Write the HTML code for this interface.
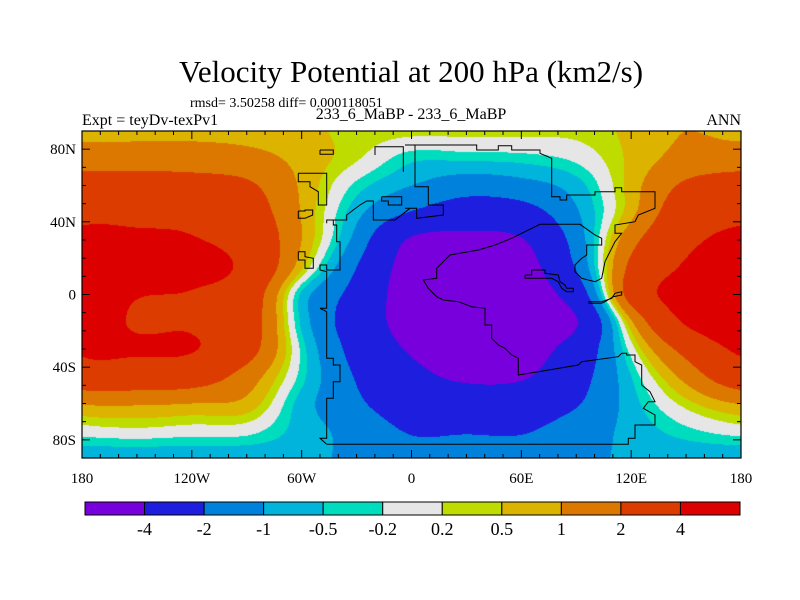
<!DOCTYPE html>
<html><head><meta charset="utf-8">
<style>
html,body{margin:0;padding:0;background:#fff;}
#wrap{position:relative;width:800px;height:600px;overflow:hidden;font-family:"Liberation Serif",serif;}
canvas{position:absolute;left:82px;top:131px;}
svg{position:absolute;left:0;top:0;}
</style></head>
<body>
<div id="wrap">
<canvas id="cv" width="659" height="327"></canvas>
<svg id="sv" width="800" height="600">
<text x="411" y="82" text-anchor="middle" font-size="31" font-family="Liberation Serif, serif">Velocity Potential at 200 hPa (km2/s)</text>
<text x="190" y="107" font-size="14" font-family="Liberation Serif, serif">rmsd= 3.50258 diff= 0.000118051</text>
<text x="82" y="125" font-size="16" font-family="Liberation Serif, serif">Expt = teyDv-texPv1</text>
<text x="411" y="119" text-anchor="middle" font-size="16" font-family="Liberation Serif, serif">233_6_MaBP - 233_6_MaBP</text>
<text x="741" y="125" text-anchor="end" font-size="16" font-family="Liberation Serif, serif">ANN</text>
<g id="coast" fill="none" stroke="#000" stroke-width="1"></g>
<g id="axes"></g>
<g id="cbar"></g>
</svg>
</div>
<script>
const lons = [-180,-150,-120,-90,-60,-30,0,30,60,90,120,150,180];
const lats = [90,75,60,45,30,15,0,-15,-30,-45,-60,-75,-90];
// each row = one longitude column, values from 90N to 90S
const colM180 = [0.8,1.5,2.6,3.6,4.4,5.0,5.0,5.0,4.3,3.0,1.05,0.0,-0.8];
const colM150 = [0.8,1.5,2.6,3.6,4.3,5.0,4.1,3.8,4.2,3.0,1.1,0.1,-0.8];
const colM120 = [0.8,1.5,2.5,3.5,4.1,4.6,3.9,3.8,4.1,2.8,1.0,0.0,-0.8];
const colM90  = [0.75,1.3,2.2,2.8,3.3,3.6,3.0,2.8,2.6,1.5,0.8,-0.05,-0.8];
const colM60  = [0.6,0.8,0.9,0.95,1.0,0.6,-0.6,-0.6,-0.3,-0.35,-0.7,-0.7,-0.8];
const colM30  = [0.4,0.25,-0.3,-0.8,-1.3,-2.0,-2.5,-2.8,-2.5,-2.1,-1.8,-1.3,-1.2];
const col0    = [0.3,-0.4,-1.0,-2.1,-4.2,-4.8,-5.0,-4.8,-4.2,-3.5,-2.8,-2.1,-1.6];
const col30   = [0.3,-0.4,-1.5,-2.8,-4.5,-5.3,-5.5,-5.5,-5.0,-4.3,-3.0,-2.1,-1.5];
const col60   = [0.3,-0.35,-1.3,-2.6,-4.1,-4.8,-5.0,-5.0,-4.8,-4.2,-2.8,-2.1,-1.5];
const col90   = [0.3,-0.1,-0.7,-1.1,-1.5,-1.9,-3.0,-4.1,-3.2,-2.6,-2.1,-1.5,-1.2];
const col120  = [0.6,0.6,0.7,0.8,1.6,2.3,2.6,0.9,0.0,-0.5,-0.7,-0.8,-0.9];
const col150  = [1.0,1.3,2.2,3.0,3.6,4.2,4.8,4.2,2.5,1.3,0.35,-0.3,-0.8];
const col180  = colM180;
const levels = [-4,-2,-1,-0.5,-0.2,0.2,0.5,1,2,4];
const levelLabels = ["-4","-2","-1","-0.5","-0.2","0.2","0.5","1","2","4"];
const colors = ["#7800dc","#1e1ede","#0082dc","#00b4dc","#00dcbe","#e6e6e6","#bedc00","#dcb400","#dc7800","#dc3c00","#dc0000"];
const lonTicks = [-180,-120,-60,0,60,120,180];
const lonTickLabels = ["180","120W","60W","0","60E","120E","180"];
const latTicks = [80,40,0,-40,-80];
const latTickLabels = ["80N","40N","0","40S","80S"];

const cols = [colM180,colM150,colM120,colM90,colM60,colM30,col0,col30,col60,col90,col120,col150,col180];
const X0=82, X1=741, Y0=131, Y1=458;
function xOf(lon){return X0+(lon+180)/360*(X1-X0);}
function yOf(lat){return Y0+(90-lat)/180*(Y1-Y0);}
function cr(p0,p1,p2,p3,t){return 0.5*((2*p1)+(-p0+p2)*t+(2*p0-5*p1+4*p2-p3)*t*t+(-p0+3*p1-3*p2+p3)*t*t*t);}
function G(i,j){
  const n=lons.length-1; i=((i%n)+n)%n; j=Math.max(0,Math.min(lats.length-1,j));
  return cols[i][j];
}
function field(lon,lat){
  const fi=(lon+180)/30, fj=(90-lat)/15;
  const i=Math.floor(fi), j=Math.min(Math.floor(fj),lats.length-2);
  const tx=fi-i, ty=fj-j;
  const r=[];
  for(let a=-1;a<=2;a++) r.push(cr(G(i-1,j+a),G(i,j+a),G(i+1,j+a),G(i+2,j+a),tx));
  return cr(r[0],r[1],r[2],r[3],ty);
}
function hex(c){return [parseInt(c.slice(1,3),16),parseInt(c.slice(3,5),16),parseInt(c.slice(5,7),16)];}
const rgb=colors.map(hex);
(function draw(){
  const cv=document.getElementById('cv'),ctx=cv.getContext('2d');
  const W=cv.width,H=cv.height,img=ctx.createImageData(W,H);
  for(let py=0;py<H;py++){
    const lat=90-(py+0.5)/H*180;
    for(let px=0;px<W;px++){
      const lon=-180+(px+0.5)/W*360;
      const v=field(lon,lat);
      let k=0; while(k<levels.length && v>=levels[k]) k++;
      const c=rgb[k],o=(py*W+px)*4;
      img.data[o]=c[0];img.data[o+1]=c[1];img.data[o+2]=c[2];img.data[o+3]=255;
    }
  }
  ctx.putImageData(img,0,0);
})();
const NS="http://www.w3.org/2000/svg";
function mk(tag,attrs,parent){const e=document.createElementNS(NS,tag);for(const k in attrs)e.setAttribute(k,attrs[k]);parent.appendChild(e);return e;}
const coast=document.getElementById('coast');
function z3(a){const o=[];for(let k=0;k<a.length;k+=2)o.push((70+a[k]/3).toFixed(1)+','+(125+a[k+1]/3).toFixed(1));return o.join(' ');}
function z4(a){const o=[];for(let k=0;k<a.length;k+=2)o.push((405+a[k]/3).toFixed(1)+','+(125+a[k+1]/3).toFixed(1));return o.join(' ');}
const lines3=[
 [750,75,790,75,790,88,750,88,750,75],
 [685,145,770,145,770,240,745,240,745,200,720,185,720,170,685,170,685,145],
 [685,258,705,258,705,255,728,255,728,270,705,280,685,280,685,258],
 [685,380,705,380,705,395,730,400,730,430,705,430,705,405,685,405,685,380],
 [915,90,915,65,1000,65,1000,140],
 [935,215,995,215,995,240,955,240,955,228,935,228,935,215],
 [770,295,770,285,830,285,830,270,850,255,870,240,890,228,910,228,910,285,975,285,1020,250],
 [790,285,790,300,800,300,800,350,810,350,810,435,770,435,770,420,750,420,750,435,770,440,770,550,750,550,770,560,770,700,790,700,790,720,810,720,810,770,790,770,790,820,770,820,770,940,750,940,770,958]
];
const lines4=[
 [0,60,30,60,30,185,70,185,70,240,115,240,115,270,35,280,35,250,0,250],
 [30,60,215,60,215,75,280,75,280,62,320,62,320,75,405,75,405,85,440,100,440,215,465,215,465,225,485,225,485,210,570,210,570,200,630,200,630,188,650,188,650,200,750,200,750,250,700,270,690,290,630,300,630,325,650,325,630,350,620,370,610,390,600,410,590,460,570,470,530,460,510,440,510,420,530,400,545,390,545,360,590,360,590,340,570,330,525,298,405,298,360,320,320,340,270,360,220,375,135,390,95,430,95,460,55,465,70,490,95,515,115,525,160,530,200,545,240,550,240,600,260,600,260,640,280,660,300,670,320,690,340,700,340,750,400,740,520,720,530,710,640,695,650,685,665,685,665,690,690,690,690,710,710,720,710,780,735,800,750,830,730,830,715,850,750,870,750,900,690,900,690,940,670,940,670,958,-235,958],
 [360,450,380,450,380,435,420,435,420,445,460,450,465,470,480,480,485,490,505,490,505,500,485,500,470,490,460,470,440,460,380,460,360,460,360,450],
 [550,535,590,535,600,530,625,515,650,510,650,500,630,505,620,520,590,530,550,530]
];
lines3.forEach(a=>{const p=mk('polyline',{points:z3(a)},coast);});
lines4.forEach(a=>{const p=mk('polyline',{points:z4(a)},coast);});
const axes=document.getElementById('axes');
const fr=mk('rect',{x:X0,y:Y0,width:X1-X0,height:Y1-Y0,fill:'none',stroke:'#000','stroke-width':1.2},axes);

for(let lon=-180;lon<=180;lon+=10){
  const x=xOf(lon),len=(lon%60===0)?8:4;
  mk('line',{x1:x,y1:Y1,x2:x,y2:Y1-len,stroke:'#000'},axes);
  mk('line',{x1:x,y1:Y0,x2:x,y2:Y0+len,stroke:'#000'},axes);
}
for(let lat=-90;lat<=90;lat+=10){
  const y=yOf(lat),len=(lat%40===0)?8:4;
  mk('line',{x1:X0,y1:y,x2:X0+len,y2:y,stroke:'#000'},axes);
  mk('line',{x1:X1,y1:y,x2:X1-len,y2:y,stroke:'#000'},axes);
}
lonTicks.forEach((lon,i)=>{
  const t=mk('text',{x:xOf(lon),y:483,'text-anchor':'middle','font-size':15},axes);
  t.textContent=lonTickLabels[i];
  
  
});
latTicks.forEach((lat,i)=>{
  const t=mk('text',{x:76,y:yOf(lat)+5,'text-anchor':'end','font-size':15},axes);
  t.textContent=latTickLabels[i];
  
  
});
const cb=document.getElementById('cbar');
const CB0=85,CB1=740,CBY=502,CBH=13,bw=(CB1-CB0)/colors.length;
colors.forEach((c,i)=>{
  const r=mk('rect',{x:CB0+i*bw,y:CBY,width:bw,height:CBH,fill:c,stroke:'#000','stroke-width':1},cb);
  
  
});
levelLabels.forEach((l,i)=>{
  const t=mk('text',{x:CB0+(i+1)*bw,y:535,'text-anchor':'middle','font-size':18},cb);
  t.textContent=l;
  
  
});
</script>
</body></html>
